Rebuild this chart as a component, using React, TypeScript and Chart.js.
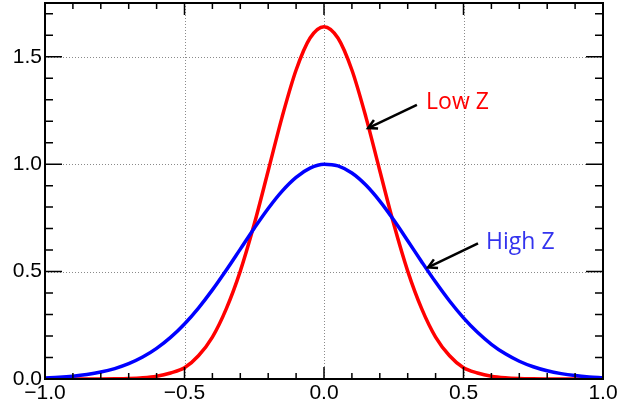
import React, { useEffect, useRef } from "react";
import { Chart, registerables } from "chart.js";

Chart.register(...registerables);

const xValues = [
  -1.0, -0.95, -0.9, -0.85, -0.8, -0.75, -0.7, -0.65, -0.6, -0.55, -0.5,
  -0.45, -0.4, -0.35, -0.3, -0.25, -0.2, -0.15, -0.1, -0.05, 0.0,
  0.05, 0.1, 0.15, 0.2, 0.25, 0.3, 0.35, 0.4, 0.45, 0.5,
  0.55, 0.6, 0.65, 0.7, 0.75, 0.8, 0.85, 0.9, 0.95, 1.0,
];

const lowZ = [
  0.0, 0.0, 0.0, 0.0001, 0.0004, 0.001, 0.0024, 0.0058, 0.013, 0.028, 0.052,
  0.108, 0.195, 0.3275, 0.5022, 0.7211, 0.9692, 1.22, 1.438, 1.5871, 1.64,
  1.5871, 1.438, 1.22, 0.9692, 0.7211, 0.5022, 0.3275, 0.195, 0.108, 0.052,
  0.028, 0.013, 0.0058, 0.0024, 0.001, 0.0004, 0.0001, 0.0, 0.0, 0.0,
];

const highZ = [
  0.0048, 0.008, 0.0131, 0.0208, 0.0322, 0.0486, 0.0714, 0.1022, 0.1426, 0.1936, 0.2562,
  0.3303, 0.4147, 0.5074, 0.6046, 0.7019, 0.7938, 0.8746, 0.9386, 0.9813, 0.9995,
  0.9917, 0.9585, 0.9025, 0.8278, 0.7396, 0.6438, 0.546, 0.451, 0.3629, 0.2845,
  0.2172, 0.1616, 0.1171, 0.0827, 0.0569, 0.0381, 0.0249, 0.0158, 0.0098, 0.0059,
];

const seriesNames = ["Low Z", "High Z"];
const seriesColors = ["#ff0000", "#0000ff"];
const labelColors = ["#ff0000", "#3333ee"];
// annotation anchors in data units: [textX, textY, arrowTailX, arrowTailY, arrowHeadX, arrowHeadY]
const lowZNote = [0.366, 1.285, 0.333, 1.276, 0.158, 1.168];
const highZNote = [0.581, 0.636, 0.552, 0.631, 0.373, 0.519];

const xMin = -1;
const xMax = 1;
const yMin = 0;
const yMax = 1.75;

const fmt = (v: number) => {
  const s = Math.abs(v).toFixed(1);
  return v < -1e-9 ? "\u2212" + s : s;
};

const framePlugin = {
  id: "framePlugin",
  beforeDatasetsDraw(chart: any) {
    const { ctx, chartArea: a, scales } = chart;
    const xs = scales.x;
    const ys = scales.y;
    ctx.save();
    ctx.strokeStyle = "#8a8a8a";
    ctx.lineWidth = 1;
    ctx.setLineDash([1, 2]);
    for (let v = -0.5; v <= 0.5001; v += 0.5) {
      const px = Math.round(xs.getPixelForValue(v)) + 0.5;
      ctx.beginPath();
      ctx.moveTo(px, a.top);
      ctx.lineTo(px, a.bottom);
      ctx.stroke();
    }
    for (let v = 0.5; v <= 1.5001; v += 0.5) {
      const py = Math.round(ys.getPixelForValue(v)) + 0.5;
      ctx.beginPath();
      ctx.moveTo(a.left, py);
      ctx.lineTo(a.right, py);
      ctx.stroke();
    }
    ctx.restore();
  },
  afterDraw(chart: any) {
    const { ctx, chartArea: a, scales } = chart;
    const xs = scales.x;
    const ys = scales.y;
    ctx.save();
    ctx.strokeStyle = "#000";
    ctx.lineWidth = 1.5;
    ctx.setLineDash([]);
    // x ticks top & bottom
    for (let i = 0; i <= 20; i++) {
      const v = -1 + i * 0.1;
      const px = xs.getPixelForValue(v);
      const major = i % 5 === 0;
      const len = major ? 12 : 6;
      ctx.beginPath();
      ctx.moveTo(px, a.bottom);
      ctx.lineTo(px, a.bottom - len);
      ctx.moveTo(px, a.top);
      ctx.lineTo(px, a.top + len);
      ctx.stroke();
    }
    // y ticks left & right
    for (let i = 0; i <= 17; i++) {
      const v = i * 0.1;
      const py = ys.getPixelForValue(v);
      const major = i % 5 === 0;
      const len = major ? 17 : 8;
      ctx.beginPath();
      ctx.moveTo(a.left, py);
      ctx.lineTo(a.left + len, py);
      ctx.moveTo(a.right, py);
      ctx.lineTo(a.right - len, py);
      ctx.stroke();
    }
    // frame
    ctx.lineWidth = 2;
    ctx.strokeRect(a.left, a.top, a.right - a.left, a.bottom - a.top);

    // annotations
    const notes = [lowZNote, highZNote];
    notes.forEach((n, k) => {
      const tx = xs.getPixelForValue(n[0]);
      const ty = ys.getPixelForValue(n[1]);
      const x1 = xs.getPixelForValue(n[2]);
      const y1 = ys.getPixelForValue(n[3]);
      const x2 = xs.getPixelForValue(n[4]);
      const y2 = ys.getPixelForValue(n[5]);
      ctx.fillStyle = labelColors[k];
      ctx.font = '23px "Open Sans", sans-serif';
      ctx.textAlign = "left";
      ctx.textBaseline = "middle";
      ctx.fillText(seriesNames[k], tx, ty);
      ctx.strokeStyle = "#000";
      ctx.lineWidth = 2.5;
      ctx.beginPath();
      ctx.moveTo(x1, y1);
      ctx.lineTo(x2, y2);
      ctx.stroke();
      const ang = Math.atan2(y2 - y1, x2 - x1);
      const hl = 10;
      ctx.beginPath();
      ctx.moveTo(x2 - hl * Math.cos(ang - 0.5), y2 - hl * Math.sin(ang - 0.5));
      ctx.lineTo(x2, y2);
      ctx.lineTo(x2 - hl * Math.cos(ang + 0.5), y2 - hl * Math.sin(ang + 0.5));
      ctx.stroke();
    });
    ctx.restore();
  },
};

export default function App() {
  const ref = useRef<HTMLCanvasElement | null>(null);
  useEffect(() => {
    document.body.style.margin = "0";
    const canvas = ref.current;
    if (!canvas) return;
    const chart = new Chart(canvas, {
      type: "line",
      data: {
        datasets: [
          {
            label: seriesNames[1],
            data: xValues.map((x, i) => ({ x, y: highZ[i] })),
            borderColor: seriesColors[1],
            borderWidth: 3.5,
            pointRadius: 0,
            cubicInterpolationMode: "monotone",
            fill: false,
          },
          {
            label: seriesNames[0],
            data: xValues.map((x, i) => ({ x, y: lowZ[i] })),
            borderColor: seriesColors[0],
            borderWidth: 3.5,
            pointRadius: 0,
            cubicInterpolationMode: "monotone",
            fill: false,
          },
        ],
      },
      options: {
        responsive: false,
        animation: false,
        layout: { padding: { top: 3, right: 14, left: 0, bottom: 0 } },
        plugins: { legend: { display: false }, tooltip: { enabled: false } },
        scales: {
          x: {
            type: "linear",
            min: xMin,
            max: xMax,
            grid: { display: false, drawTicks: false },
            border: { display: false },
            ticks: {
              stepSize: 0.5,
              includeBounds: false,
              maxRotation: 0,
              autoSkip: false,
              padding: 2,
              color: "#000",
              font: { family: '"Liberation Sans", Arial, sans-serif', size: 21 },
              callback: (v: any) => fmt(Number(v)),
            },
            afterFit: (s: any) => {
              s.height = 31;
              s.paddingLeft = 0;
              s.paddingRight = 0;
              s.paddingTop = 0;
              s.paddingBottom = 0;
            },
          },
          y: {
            type: "linear",
            min: yMin,
            max: yMax,
            grid: { display: false, drawTicks: false },
            border: { display: false },
            ticks: {
              stepSize: 0.5,
              includeBounds: false,
              padding: 3,
              color: "#000",
              font: { family: '"Liberation Sans", Arial, sans-serif', size: 21 },
              callback: (v: any) => fmt(Number(v)),
            },
            afterFit: (s: any) => {
              s.width = 45;
              s.paddingTop = 0;
              s.paddingBottom = 0;
              s.paddingLeft = 0;
              s.paddingRight = 0;
            },
          },
        },
      },
      plugins: [framePlugin],
    } as any);
    return () => chart.destroy();
  }, []);
  return <canvas ref={ref} width={617} height={410} style={{ display: "block" }} />;
}
